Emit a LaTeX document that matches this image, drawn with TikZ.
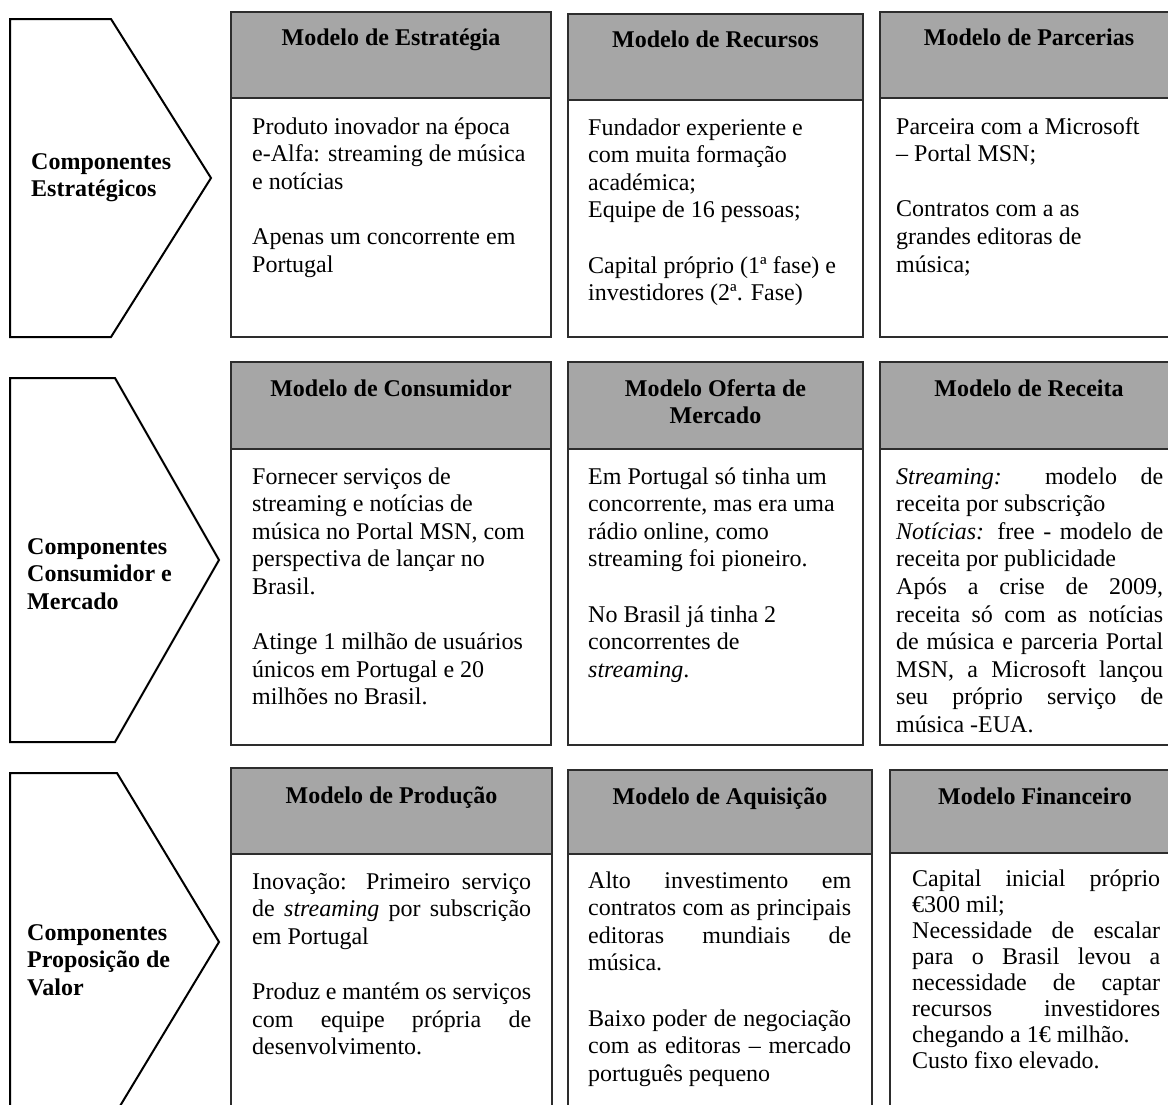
\documentclass[tikz,border=0pt]{standalone}
\usepackage{fontspec}
\setmainfont{Liberation Serif}
\definecolor{hdrgray}{RGB}{166,166,166}
\definecolor{edgegray}{RGB}{45,45,45}
% a justified line: spaces stretched to the full width of the text block
\newcommand{\jline}[1]{\makebox[\linewidth][s]{#1}}
\newcommand{\gap}{\\[27.6pt]}
\tikzset{
  hdrbox/.style={fill=hdrgray, draw=edgegray, line width=1.5pt},
  panelbox/.style={draw=edgegray, line width=1.5pt},
  chevron/.style={draw=black, line width=2pt, line join=miter, fill=white},
  title/.style={anchor=base, inner sep=0pt, font=\fontsize{24}{27.6}\selectfont\bfseries},
  bodytxt/.style={anchor=base west, inner sep=0pt, font=\fontsize{24}{27.6}\selectfont},
  label/.style={anchor=base west, inner sep=0pt, font=\fontsize{24}{27.6}\selectfont\bfseries},
}
\begin{document}
\begin{tikzpicture}[x=1pt,y=-1pt]
\useasboundingbox (0,0) rectangle (1168,1104);
\clip (0,0) rectangle (1168,1104);

% ---------- row 1: strategic components ----------
\draw[chevron] (10,19) -- (111,19) -- (211,178) -- (111,337) -- (10,337) -- cycle;
\node[label] (lab1) at (31,169) {\parbox[t]{180pt}{\raggedright Componentes\\Estratégicos}};

\draw[hdrbox] (231,12) rectangle (551,98);
\draw[panelbox] (231,98) rectangle (551,337);
\node[title] (t11) at (391,45) {Modelo de Estratégia};
\node[bodytxt] (b11) at (252,134) {\parbox[t]{285pt}{\raggedright
Produto inovador na época\\
e-Alfa: streaming de música\\
e notícias\gap
Apenas um concorrente em\\
Portugal}};

\draw[hdrbox] (568,14) rectangle (863,100);
\draw[panelbox] (568,100) rectangle (863,337);
\node[title] (t12) at (715.5,47) {Modelo de Recursos};
\node[bodytxt] (b12) at (588,135) {\parbox[t]{265pt}{\raggedright
Fundador experiente e\\
com muita formação\\
académica;\\
Equipe de 16 pessoas;\gap
Capital próprio (1ª fase) e\\
investidores (2ª. Fase)}};

\draw[hdrbox] (880,12) rectangle (1178,98);
\draw[panelbox] (880,98) rectangle (1178,337);
\node[title] (t13) at (1029,45) {Modelo de Parcerias};
\node[bodytxt] (b13) at (896,134) {\parbox[t]{265pt}{\raggedright
Parceira com a Microsoft\\
– Portal MSN;\gap
Contratos com a as\\
grandes editoras de\\
música;}};

% ---------- row 2: consumer and market components ----------
\draw[chevron] (10,378) -- (115,378) -- (219,560) -- (115,742) -- (10,742) -- cycle;
\node[label] (lab2) at (27,554) {\parbox[t]{190pt}{\raggedright Componentes\\Consumidor e\\Mercado}};

\draw[hdrbox] (231,362) rectangle (551,449);
\draw[panelbox] (231,449) rectangle (551,745);
\node[title] (t21) at (391,396) {Modelo de Consumidor};
\node[bodytxt] (b21) at (252,484) {\parbox[t]{285pt}{\raggedright
Fornecer serviços de\\
streaming e notícias de\\
música no Portal MSN, com\\
perspectiva de lançar no\\
Brasil.\gap
Atinge 1 milhão de usuários\\
únicos em Portugal e 20\\
milhões no Brasil.}};

\draw[hdrbox] (568,362) rectangle (863,449);
\draw[panelbox] (568,449) rectangle (863,745);
\node[title] (t22) at (715.5,396) {\parbox[t]{280pt}{\centering Modelo Oferta de\\Mercado}};
\node[bodytxt] (b22) at (588,484) {\parbox[t]{265pt}{\raggedright
Em Portugal só tinha um\\
concorrente, mas era uma\\
rádio online, como\\
streaming foi pioneiro.\gap
No Brasil já tinha 2\\
concorrentes de\\
\textit{streaming}.}};

\draw[hdrbox] (880,362) rectangle (1178,449);
\draw[panelbox] (880,449) rectangle (1178,745);
\node[title] (t23) at (1029,396) {Modelo de Receita};
\node[bodytxt] (b23) at (896,484) {\parbox[t]{267pt}{\raggedright
\jline{\textit{Streaming:} modelo de}\\
receita por subscrição\\
\jline{\textit{Notícias:} free - modelo de}\\
receita por publicidade\\
\jline{Após a crise de 2009,}\\
\jline{receita só com as notícias}\\
\jline{de música e parceria Portal}\\
\jline{MSN, a Microsoft lançou}\\
\jline{seu próprio serviço de}\\
música -EUA.}};

% ---------- row 3: value proposition components ----------
\draw[chevron] (10,773) -- (117,773) -- (219,942) -- (117,1111) -- (10,1111) -- cycle;
\node[label] (lab3) at (27,940) {\parbox[t]{190pt}{\raggedright Componentes\\Proposição de\\Valor}};

\draw[hdrbox] (231,768) rectangle (552,854);
\draw[panelbox] (231,854) rectangle (552,1120);
\node[title] (t31) at (391.5,803) {Modelo de Produção};
\node[bodytxt] (b31) at (252,889) {\parbox[t]{279pt}{\raggedright
\jline{Inovação: Primeiro serviço}\\
\jline{de \textit{streaming} por subscrição}\\
em Portugal\gap
\jline{Produz e mantém os serviços}\\
\jline{com equipe própria de}\\
desenvolvimento.}};

\draw[hdrbox] (568,770) rectangle (872,854);
\draw[panelbox] (568,854) rectangle (872,1120);
\node[title] (t32) at (720,804) {Modelo de Aquisição};
\node[bodytxt] (b32) at (588,888) {\parbox[t]{263pt}{\raggedright
\jline{Alto investimento em}\\
\jline{contratos com as principais}\\
\jline{editoras mundiais de}\\
música.\gap
\jline{Baixo poder de negociação}\\
\jline{com as editoras – mercado}\\
português pequeno}};

\draw[hdrbox] (890,770) rectangle (1180,853);
\draw[panelbox] (890,853) rectangle (1180,1120);
\node[title] (t33) at (1035,804) {Modelo Financeiro};
\node[bodytxt, font=\fontsize{24}{26}\selectfont] (b33) at (912,886) {\parbox[t]{248pt}{\raggedright
\jline{Capital inicial próprio}\\
€300 mil;\\
\jline{Necessidade de escalar}\\
\jline{para o Brasil levou a}\\
\jline{necessidade de captar}\\
\jline{recursos investidores}\\
chegando a 1€ milhão.\\
Custo fixo elevado.}};
\end{tikzpicture}
\end{document}
